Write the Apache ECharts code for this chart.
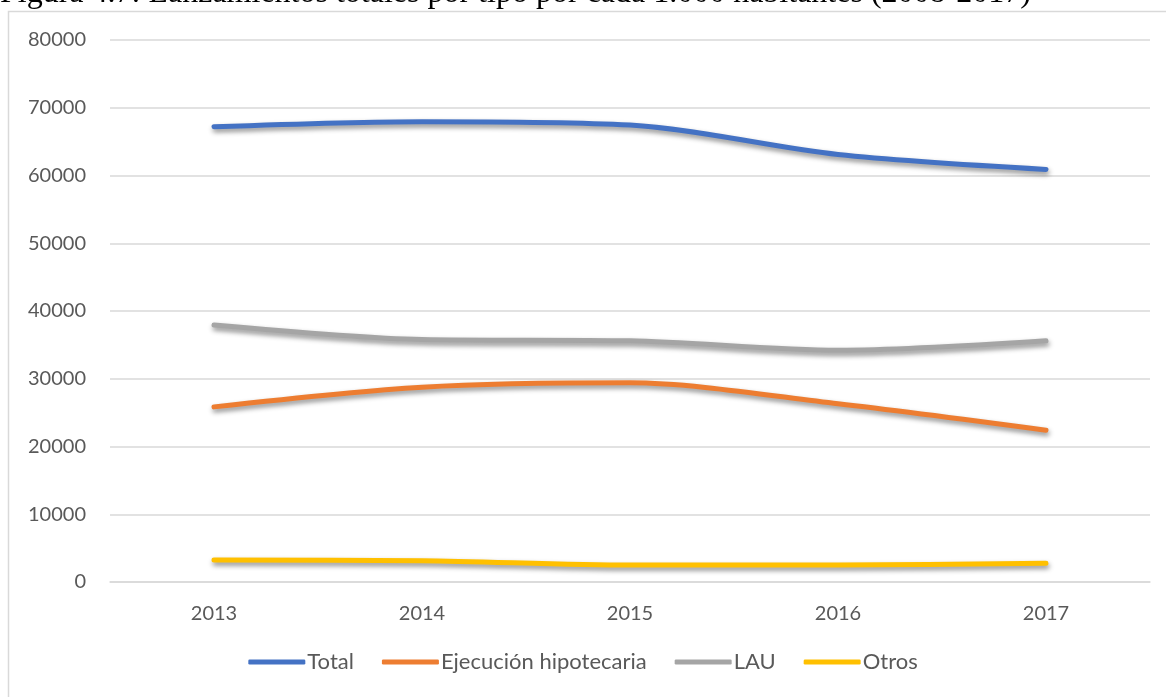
<!DOCTYPE html>
<html>
<head>
<meta charset="utf-8">
<script src="https://cdn.jsdelivr.net/npm/echarts@6/dist/echarts.min.js"></script>
<style>
  html, body { margin: 0; padding: 0; background: #fff; }
  #chart { width: 1166px; height: 697px; }
</style>
</head>
<body>
<div id="chart"></div>
<script>
// datos
const years = ['2013', '2014', '2015', '2016', '2017'];
const total = [67200, 67950, 67450, 63100, 60900];
const ejecucion = [25850, 28750, 29400, 26300, 22400];
const lau = [37950, 35800, 35600, 34200, 35600];
const otros = [3250, 3150, 2500, 2500, 2750];
const seriesNames = ['Total', 'Ejecución hipotecaria', 'LAU', 'Otros'];
const colors = ['#4472C4', '#ED7D31', '#A5A5A5', '#FFC000'];

const chart = echarts.init(document.getElementById('chart'));

// estilo común de las líneas
function lineSeries(name, data, color) {
  return {
    name: name,
    type: 'line',
    data: data,
    smooth: 0.3,
    symbol: 'none',
    lineStyle: {
      width: 5,
      color: color,
      cap: 'round',
      shadowColor: 'rgba(0,0,0,0.45)',
      shadowBlur: 5,
      shadowOffsetX: 1,
      shadowOffsetY: 3,
    },
    itemStyle: { color: color },
  };
}

const option = {
  animation: false,
  backgroundColor: '#fff',
  color: colors,
  graphic: [
    {
      type: 'rect',
      shape: { x: 8.5, y: 11.5, width: 1300, height: 900 },
      style: { fill: 'none', stroke: '#d9d9d9', lineWidth: 1.5 },
      silent: true,
    },
    {
      type: 'text',
      x: 0,
      y: -22,
      style: {
        text: 'Figura 4.7: Lanzamientos totales por tipo por cada 1.000 habitantes (2008-2017)',
        font: '32px "Liberation Serif", "Times New Roman", serif',
        fill: '#000',
      },
      silent: true,
    },
  ],
  grid: {
    left: 110,
    right: 16,
    top: 40,
    bottom: 115,
  },
  legend: {
    data: seriesNames,
    bottom: 19,
    left: 'center',
    icon: 'roundRect',
    itemWidth: 57,
    itemHeight: 5,
    itemGap: 28,
    textStyle: {
      color: '#595959',
      fontFamily: 'Lato',
      fontSize: 22,
      padding: [0, 0, 0, -3],
    },
  },
  xAxis: {
    type: 'category',
    data: years,
    boundaryGap: true,
    axisLine: { lineStyle: { color: '#d9d9d9', width: 1.5 } },
    axisTick: { show: false },
    axisLabel: {
      color: '#595959',
      fontFamily: 'Lato',
      fontSize: 20,
      margin: 22,
    },
  },
  yAxis: {
    type: 'value',
    min: 0,
    max: 80000,
    interval: 10000,
    axisLine: { show: false },
    axisTick: { show: false },
    splitLine: { lineStyle: { color: '#d9d9d9', width: 1.5 } },
    axisLabel: {
      color: '#595959',
      fontFamily: 'Lato',
      fontSize: 20,
      margin: 24,
      formatter: (v) => String(v),
    },
  },
  series: [
    lineSeries(seriesNames[0], total, colors[0]),
    lineSeries(seriesNames[1], ejecucion, colors[1]),
    lineSeries(seriesNames[2], lau, colors[2]),
    lineSeries(seriesNames[3], otros, colors[3]),
  ],
};

chart.setOption(option);
</script>
</body>
</html>
